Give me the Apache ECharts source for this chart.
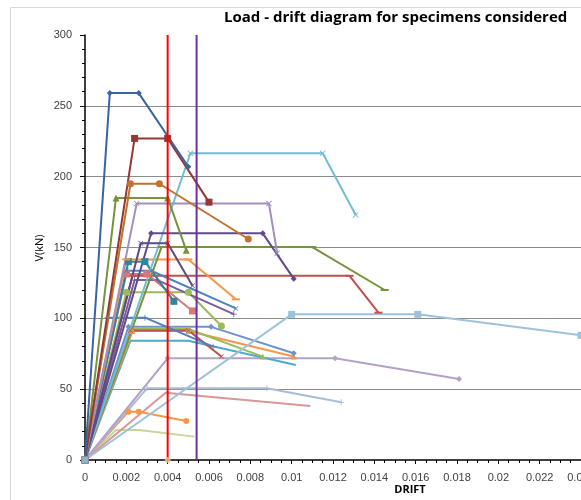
<!DOCTYPE html>
<html><head><meta charset="utf-8">
<script src="https://cdn.jsdelivr.net/npm/echarts@6/dist/echarts.min.js"></script>
<style>html,body{margin:0;padding:0;background:#fff}#c{width:581px;height:500px}</style>
</head><body><div id="c"></div>
<script>
// ---- data (drift, V kN) ----
const s01 = [[0,0],[0.0012,259],[0.0026,259],[0.0050,207]];
const s02 = [[0,0],[0.0024,227],[0.0040,227],[0.0060,182]];
const s03 = [[0,0],[0.0022,195],[0.0036,195],[0.0079,156]];
const s04 = [[0,0],[0.0015,185],[0.0040,185],[0.0049,148]];
const s05 = [[0,0],[0.0025,181],[0.0089,181],[0.0093,146]];
const s06 = [[0,0],[0.0032,160],[0.0086,160],[0.0101,128]];
const s07 = [[0,0],[0.0027,153],[0.0040,153],[0.0052,123]];
const s08 = [[0,0],[0.0051,216.5],[0.0115,216.5],[0.0131,173]];
const s09 = [[0,0],[0.0037,150.3],[0.0110,150.3],[0.0145,120]];
const s10 = [[0,0],[0.0020,141.6],[0.0050,141.6],[0.0073,113.4]];
const s11 = [[0,0],[0.0021,140],[0.0029,140],[0.0043,112]];
const s12 = [[0,0],[0.0020,133.6],[0.0032,133.6],[0.0073,107]];
const s13 = [[0,0],[0.0020,131.3],[0.0030,131.3],[0.0052,105.2]];
const s14 = [[0,0],[0.0023,130],[0.0128,130],[0.0142,104]];
const s15 = [[0,0],[0.0024,127],[0.0035,127],[0.0072,103]];
const s16 = [[0,0],[0.0020,118.4],[0.0050,118.4],[0.0066,94.6]];
const s17 = [[0,0],[0.0100,102.8],[0.0161,102.8],[0.0240,88]];
const s18 = [[0,0],[0.0011,100.5],[0.0029,100.5],[0.0062,80]];
const s19 = [[0,0],[0.0021,94],[0.0061,94],[0.0101,75.3]];
const s20 = [[0,0],[0.0022,91.5],[0.0050,91.5],[0.0066,73]];
const s21 = [[0,0],[0.0022,92.5],[0.0050,92.5],[0.0086,73]];
const s22 = [[0,0],[0.0023,91],[0.0050,91],[0.0101,73]];
const s23 = [[0,0],[0.0022,84.2],[0.0050,84.2],[0.0102,67]];
const s24 = [[0,0],[0.0040,71.8],[0.0121,71.8],[0.0181,57.2]];
const s25 = [[0,0],[0.0030,50.6],[0.0088,50.6],[0.0124,40.7]];
const s26 = [[0,0],[0.0039,47.5],[0.0109,38.1]];
const s27 = [[0,0],[0.0021,34.1],[0.0026,34.1],[0.0049,27.5]];
const s28 = [[0,0],[0.0015,21.2],[0.0026,21.2],[0.0053,16.5]];
const limitRed = [[0.004,0],[0.004,300]];
const limitPurple = [[0.0054,0],[0.0054,300]];
const xTickLabels = ['0','0.002','0.004','0.006','0.008','0.01','0.012','0.014','0.016','0.018','0.02','0.022','0.024'];

// ---- styles ----
const SYM = {
  diamond:'diamond', square:'rect', triangle:'triangle', circle:'circle',
  x:'path://M0,1L1,0L5,4L9,0L10,1L6,5L10,9L9,10L5,6L1,10L0,9L4,5Z',
  plus:'path://M4.3,0H5.7V4.3H10V5.7H5.7V10H4.3V5.7H0V4.3H4.3Z',
  dash:'path://M0,0H10V2H0Z', none:'none'
};
const specs = [
  [s28,'#C3D69B','none',6],
  [s27,'#F79646','circle',6],
  [s26,'#D99694','none',6],
  [s25,'#A9BCD6','plus',6],
  [s24,'#B3A2C7','diamond',6],
  [s23,'#4BACC6','none',6],
  [s22,'#F79646','triangle',6],
  [s21,'#9BBB59','triangle',6],
  [s20,'#C0504D','x',5],
  [s19,'#6F93CF','diamond',6],
  [s18,'#4F81BD','plus',6],
  [s17,'#9CC3DA','square',7],
  [s16,'#9BBB59','circle',7],
  [s15,'#7A5C9E','plus',6],
  [s14,'#C0504D','dash',6],
  [s13,'#D9777A','square',7],
  [s12,'#4F81BD','x',5],
  [s11,'#31859C','square',7],
  [s10,'#F79646','dash',6],
  [s09,'#77933C','dash',6],
  [s08,'#72BCD4','x',6],
  [s07,'#5C4A86','x',5],
  [s06,'#5F4A8B','diamond',6],
  [s05,'#A18FBF','x',6],
  [s04,'#77933C','triangle',7],
  [s03,'#C0722F','circle',7],
  [s02,'#953735','square',7],
  [s01,'#3A64A0','diamond',6]
];

const series = specs.map(([d,c,s,sz]) => ({
  type:'line', data:d, color:c, showSymbol: s!=='none',
  symbol: SYM[s], symbolSize: s==='dash' ? [8,2] : sz,
  lineStyle:{width:2, color:c}, itemStyle:{color:c},
  clip:true, z:2
}));
series.push({type:'line', data:limitRed, symbol:'none', lineStyle:{width:2,color:'#FF0000'}, z:5});
series.push({type:'line', data:limitPurple, symbol:'none', lineStyle:{width:2,color:'#7030A0'}, z:5});
series.push({type:'scatter', data:[[0.004,0]], symbolSize:6, itemStyle:{color:'#FAC090'}, z:6});
series.push({type:'scatter', data:[[0,0]], symbol:'rect', symbolSize:7, itemStyle:{color:'#93CDDD'}, z:6});

const chart = echarts.init(document.getElementById('c'), null, {renderer:'canvas'});
chart.setOption({
  animation:false,
  backgroundColor:'#fff',
  grid:{left:85, right:0, top:35, bottom:40, containLabel:false, outerBoundsMode:'none'},
  xAxis:{
    type:'value', min:0, max:0.024, interval:0.002,
    axisLine:{show:true, onZero:false, lineStyle:{color:'#000', width:1.5}},
    axisTick:{show:true, length:4, lineStyle:{color:'#000'}},
    minorTick:{show:true, splitNumber:4, length:3, lineStyle:{color:'#000'}},
    splitLine:{show:false},
    axisLabel:{color:'#404040', fontSize:11, fontFamily:'Liberation Sans', margin:12,
      showMaxLabel:true, hideOverlap:false,
      formatter:(v)=>{const i=Math.round(v/0.002); return xTickLabels[i]!==undefined?xTickLabels[i]:'';}}
  },
  yAxis:{
    type:'value', min:0, max:300, interval:50,
    axisLine:{show:true, lineStyle:{color:'#000', width:1.5}},
    axisTick:{show:true, length:5, lineStyle:{color:'#000'}},
    minorTick:{show:true, splitNumber:5, length:3, lineStyle:{color:'#000'}},
    splitLine:{show:true, showMinLine:false, showMaxLine:false, lineStyle:{color:'#8C8C8C', width:1}},
    axisLabel:{color:'#404040', fontSize:11, fontFamily:'Liberation Sans', margin:13}
  },
  graphic:[
    {type:'rect', shape:{x:10.5,y:7.5,width:600,height:520}, style:{fill:'none', stroke:'#D9D9D9', lineWidth:1}, z:-1, silent:true},
    {type:'text', left:224, top:10, style:{text:'Load - drift diagram for specimens considered', font:'bold 15px "Open Sans", sans-serif', fill:'#000'}},
    {type:'text', x:410, y:490, style:{text:'DRIFT', font:'bold 11px "Open Sans", sans-serif', fill:'#000', align:'center', verticalAlign:'middle'}},
    {type:'text', x:40, y:248, rotation:Math.PI/2, style:{text:'V(kN)', font:'11px "Open Sans", sans-serif', fill:'#000', align:'center', verticalAlign:'middle'}}
  ],
  series: series
});
</script>
</body></html>
